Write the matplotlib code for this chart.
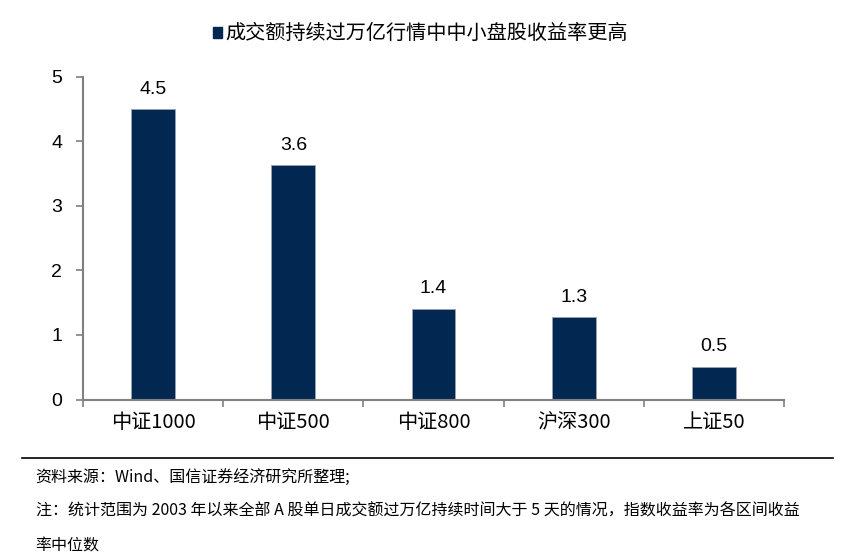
import matplotlib.pyplot as plt
import numpy as np

plt.rcParams['font.family'] = ['Liberation Sans', 'Noto Sans CJK SC', 'DejaVu Sans']

categories = ["中证1000", "中证500", "中证800", "沪深300", "上证50"]
values = [4.5, 3.63, 1.41, 1.28, 0.51]
legend_label = "成交额持续过万亿行情中中小盘股收益率更高"
source_text = "资料来源：Wind、国信证券经济研究所整理;"
note_text = "注：统计范围为 2003 年以来全部 A 股单日成交额过万亿持续时间大于 5 天的情况，指数收益率为各区间收益"
note_text2 = "率中位数"

bar_color = "#022852"
axis_color = "#808080"
cjk = ['Noto Sans CJK SC', 'DejaVu Sans']

fig = plt.figure(figsize=(8.47, 5.60), dpi=100)
ax = fig.add_axes([0.098, 0.2866, 0.8276, 0.576])

x = np.arange(len(categories))
bars = ax.bar(x, values, width=0.313, color=bar_color, edgecolor="#9aa3b0",
              linewidth=0.6, label=legend_label)

for xi, v in zip(x, values):
    ax.annotate(f"{v:.1f}", (xi, v), xytext=(0, 8), textcoords="offset points",
                ha="center", va="bottom", fontsize=14)

ax.set_xlim(-0.5, len(categories) - 0.5)
ax.set_ylim(0, 5)
ax.set_yticks(range(6))

# ticks at category boundaries, labels at centres
ax.set_xticks(np.arange(-0.5, len(categories), 1.0))
ax.set_xticklabels([])
ax.set_xticks(x, minor=True)
ax.set_xticklabels(categories, minor=True, fontsize=14.5, family=cjk)
ax.tick_params(axis="x", which="minor", length=0, pad=9)
ax.tick_params(axis="x", which="major", length=5, color=axis_color, width=1.2)
ax.tick_params(axis="y", length=5, color=axis_color, width=1.2, labelsize=14, pad=10)

for side in ["top", "right"]:
    ax.spines[side].set_visible(False)
for side in ["left", "bottom"]:
    ax.spines[side].set_color(axis_color)
    ax.spines[side].set_linewidth(1.5)

# legend at top
fig.add_artist(plt.Rectangle((0.2515, 0.933), 0.0105, 0.018, color=bar_color,
                             transform=fig.transFigure))
fig.text(0.2665, 0.941, legend_label, fontsize=14.5, ha="left", va="center", family=cjk)

# footer
fig.add_artist(plt.Line2D([0.026, 0.983], [0.182, 0.182], color="black", lw=1.2))
fig.text(0.042, 0.148, source_text, fontsize=11.5, ha="left", va="center", family=cjk)
fig.text(0.042, 0.087, note_text, fontsize=11.5, ha="left", va="center", family=cjk)
fig.text(0.042, 0.025, note_text2, fontsize=11.5, ha="left", va="center", family=cjk)

fig.savefig("out.png", dpi=100)
